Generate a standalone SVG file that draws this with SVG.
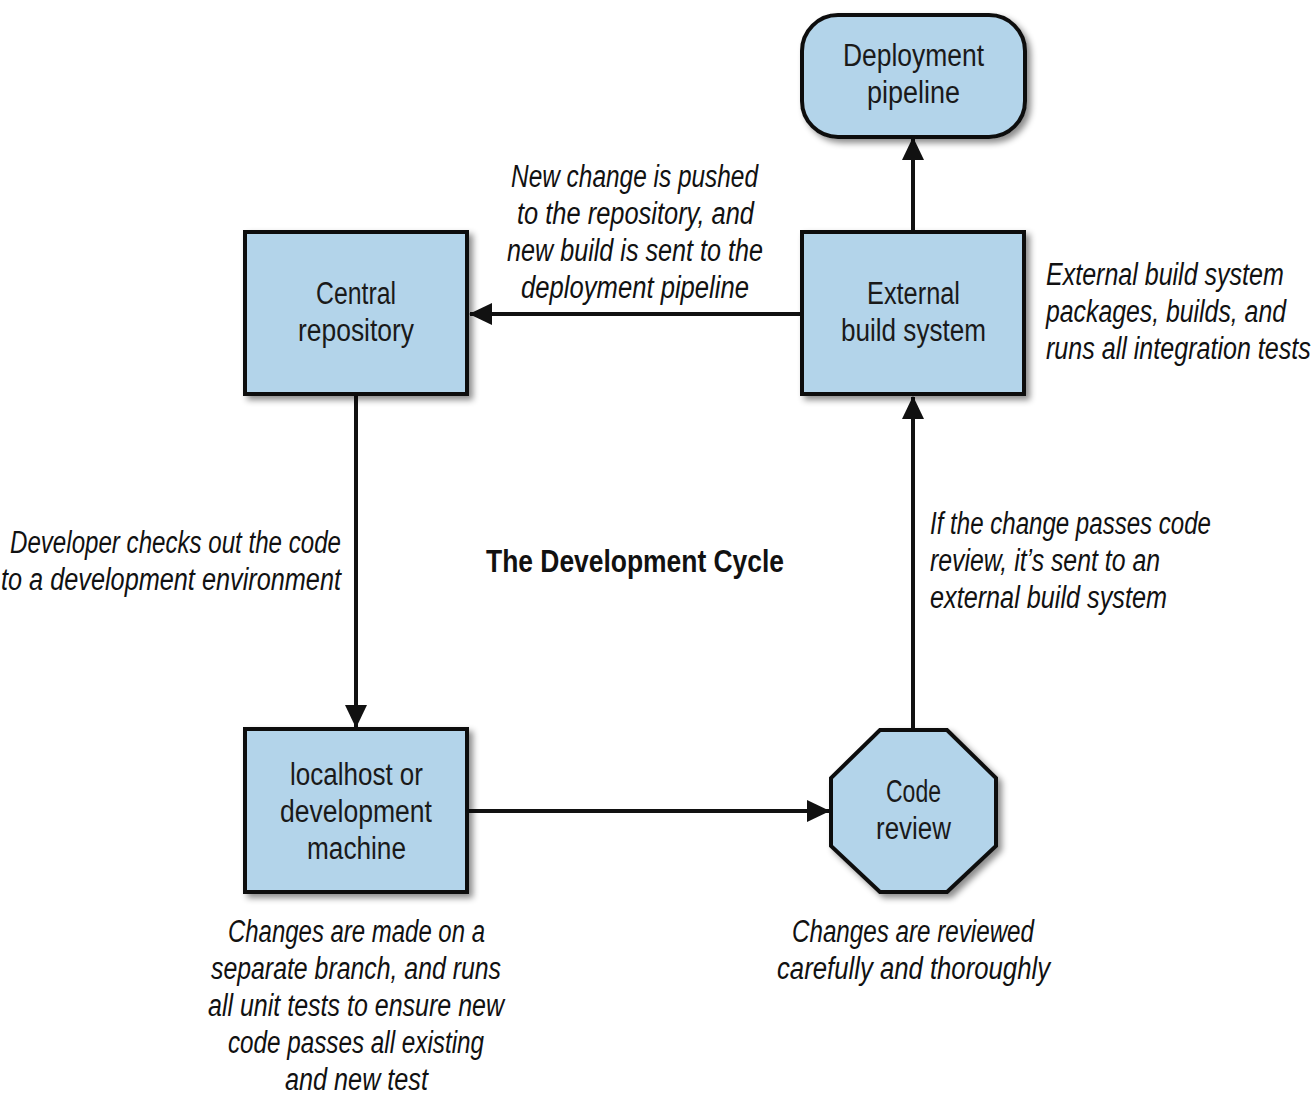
<svg xmlns="http://www.w3.org/2000/svg" width="1316" height="1104" viewBox="0 0 1316 1104">
<defs>
<style>
.node{fill:#b3d4ea;stroke:#111;stroke-width:4;filter:url(#sh)}
.nt{font-family:"Liberation Sans",Arial,sans-serif;font-size:31px;fill:#1a1a1a}
.it{font-family:"Liberation Sans",Arial,sans-serif;font-size:31px;font-style:italic;fill:#111}
.title{font-family:"Liberation Sans",Arial,sans-serif;font-size:31px;font-weight:bold;fill:#111}
.conn{stroke:#111;stroke-width:4;fill:none;marker-end:url(#ah)}
</style>
<filter id="sh" x="-10%" y="-10%" width="130%" height="130%">
<feDropShadow dx="4" dy="4" stdDeviation="3" flood-color="#000" flood-opacity="0.45"/>
</filter>
<marker id="ah" markerUnits="userSpaceOnUse" markerWidth="24" markerHeight="24" viewBox="0 0 24 24" refX="22" refY="12" orient="auto">
<path d="M0,1 L23,12 L0,23 Z" fill="#111"/>
</marker>
</defs>
<rect width="1316" height="1104" fill="#fff"/>
<g id="connectors">
<line class="conn" x1="913" y1="231" x2="913" y2="138"/>
<line class="conn" x1="801" y1="314" x2="470" y2="314"/>
<line class="conn" x1="356" y1="395" x2="356" y2="727"/>
<line class="conn" x1="468" y1="811" x2="829" y2="811"/>
<line class="conn" x1="913" y1="728" x2="913" y2="397"/>
</g>
<g id="deployment-pipeline">
<rect class="node" x="802" y="15" width="223" height="122" rx="36"/>
<text class="nt" x="843" y="66" textLength="141" lengthAdjust="spacingAndGlyphs">Deployment</text>
<text class="nt" x="867" y="103" textLength="93" lengthAdjust="spacingAndGlyphs">pipeline</text>
</g>
<g id="central-repository">
<rect class="node" x="245" y="232" width="222" height="162"/>
<text class="nt" x="316" y="304" textLength="80" lengthAdjust="spacingAndGlyphs">Central</text>
<text class="nt" x="298" y="341" textLength="116" lengthAdjust="spacingAndGlyphs">repository</text>
</g>
<g id="external-build-system">
<rect class="node" x="802" y="232" width="222" height="162"/>
<text class="nt" x="867" y="304" textLength="93" lengthAdjust="spacingAndGlyphs">External</text>
<text class="nt" x="841" y="341" textLength="145" lengthAdjust="spacingAndGlyphs">build system</text>
</g>
<g id="localhost">
<rect class="node" x="245" y="729" width="222" height="163"/>
<text class="nt" x="290" y="785" textLength="133" lengthAdjust="spacingAndGlyphs">localhost or</text>
<text class="nt" x="280" y="822" textLength="152" lengthAdjust="spacingAndGlyphs">development</text>
<text class="nt" x="307" y="859" textLength="99" lengthAdjust="spacingAndGlyphs">machine</text>
</g>
<g id="code-review">
<polygon class="node" points="880,730 947,730 996,778 996,846 947,892 880,892 831,846 831,778"/>
<text class="nt" x="886" y="802" textLength="55" lengthAdjust="spacingAndGlyphs">Code</text>
<text class="nt" x="876" y="839" textLength="75" lengthAdjust="spacingAndGlyphs">review</text>
</g>
<g id="labels">
<text class="it" x="511" y="187" textLength="247" lengthAdjust="spacingAndGlyphs">New change is pushed</text>
<text class="it" x="517" y="224" textLength="237" lengthAdjust="spacingAndGlyphs">to the repository, and</text>
<text class="it" x="507" y="261" textLength="256" lengthAdjust="spacingAndGlyphs">new build is sent to the</text>
<text class="it" x="521" y="298" textLength="228" lengthAdjust="spacingAndGlyphs">deployment pipeline</text>
<g transform="translate(1046,0) scale(0.75,1)">
<text class="it" x="0" y="285" textLength="317" lengthAdjust="spacingAndGlyphs">External build system</text>
<text class="it" x="0" y="322" textLength="320" lengthAdjust="spacingAndGlyphs">packages, builds, and</text>
<text class="it" x="0" y="359" textLength="353" lengthAdjust="spacingAndGlyphs">runs all integration tests</text>
</g>
<text class="it" x="10" y="553" textLength="331" lengthAdjust="spacingAndGlyphs">Developer checks out the code</text>
<text class="it" x="1" y="590" textLength="340" lengthAdjust="spacingAndGlyphs">to a development environment</text>
<text class="title" x="486" y="572" textLength="298" lengthAdjust="spacingAndGlyphs">The Development Cycle</text>
<text class="it" x="930" y="534" textLength="281" lengthAdjust="spacingAndGlyphs">If the change passes code</text>
<text class="it" x="930" y="571" textLength="230" lengthAdjust="spacingAndGlyphs">review, it’s sent to an</text>
<text class="it" x="930" y="608" textLength="237" lengthAdjust="spacingAndGlyphs">external build system</text>
<text class="it" x="228" y="942" textLength="257" lengthAdjust="spacingAndGlyphs">Changes are made on a</text>
<text class="it" x="211" y="979" textLength="290" lengthAdjust="spacingAndGlyphs">separate branch, and runs</text>
<text class="it" x="208" y="1016" textLength="296" lengthAdjust="spacingAndGlyphs">all unit tests to ensure new</text>
<text class="it" x="228" y="1053" textLength="256" lengthAdjust="spacingAndGlyphs">code passes all existing</text>
<text class="it" x="285" y="1090" textLength="143" lengthAdjust="spacingAndGlyphs">and new test</text>
<text class="it" x="792" y="942" textLength="242" lengthAdjust="spacingAndGlyphs">Changes are reviewed</text>
<text class="it" x="777" y="979" textLength="273" lengthAdjust="spacingAndGlyphs">carefully and thoroughly</text>
</g>
</svg>
